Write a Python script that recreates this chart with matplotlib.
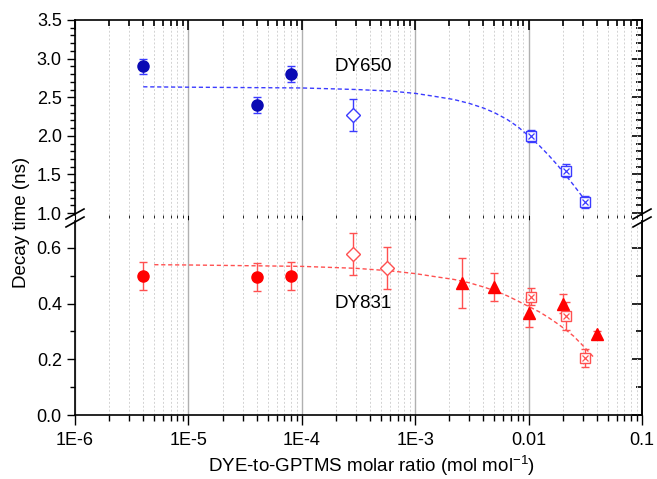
import numpy as np
import matplotlib
matplotlib.use('Agg')
import matplotlib.pyplot as plt
from matplotlib.lines import Line2D
from matplotlib.ticker import MultipleLocator, FixedLocator, FixedFormatter, LogLocator, NullFormatter

plt.rcParams['font.family'] = ['Liberation Sans', 'DejaVu Sans']
plt.rcParams['mathtext.fontset'] = 'custom'
plt.rcParams['mathtext.rm'] = 'Liberation Sans'
plt.rcParams['mathtext.default'] = 'regular'

# DY650 (blue)
x650_circ = [4e-6, 4e-5, 8e-5]
y650_circ = [2.90, 2.40, 2.80]
e650_circ = [0.10, 0.10, 0.10]
x650_dia = [2.8e-4]
y650_dia = [2.27]
e650_dia = [0.21]
x650_sq = [0.0104, 0.0213, 0.0317]
y650_sq = [2.00, 1.55, 1.14]
e650_sq = [0.08, 0.08, 0.08]
x650_fit = [4e-6, 1e-5, 1e-4, 3e-4, 6e-4, 1e-3, 1.5e-3, 2.2e-3, 3e-3, 4e-3, 5e-3,
            6.5e-3, 8e-3, 1e-2, 1.25e-2, 1.5e-2, 1.8e-2, 2.1e-2, 2.5e-2, 2.85e-2, 3.2e-2]
y650_fit = [2.635, 2.63, 2.62, 2.60, 2.58, 2.55, 2.51, 2.47, 2.42, 2.36, 2.30,
            2.21, 2.12, 2.00, 1.87, 1.75, 1.62, 1.50, 1.36, 1.25, 1.15]

# DY831 (red)
x831_circ = [4e-6, 4e-5, 8e-5]
y831_circ = [0.50, 0.495, 0.50]
e831_circ = [0.05, 0.05, 0.05]
x831_dia = [2.8e-4, 5.6e-4]
y831_dia = [0.579, 0.528]
e831_dia = [0.075, 0.075]
x831_tri = [2.6e-3, 5e-3, 1e-2, 2e-2, 4e-2]
y831_tri = [0.475, 0.46, 0.367, 0.40, 0.29]
e831_tri = [0.09, 0.05, 0.05, 0.035, 0.01]
x831_sq = [0.0104, 0.0213, 0.0317]
y831_sq = [0.425, 0.356, 0.205]
e831_sq = [0.03, 0.05, 0.033]
x831_fit = [5e-6, 1e-5, 1e-4, 3e-4, 6e-4, 1e-3, 1.5e-3, 2.2e-3, 3e-3, 4e-3, 5e-3,
            6.5e-3, 8e-3, 1e-2, 1.25e-2, 1.5e-2, 1.8e-2, 2.1e-2, 2.5e-2, 3e-2, 3.7e-2]
y831_fit = [0.540, 0.539, 0.534, 0.527, 0.518, 0.508, 0.497, 0.487, 0.475, 0.460, 0.447,
            0.428, 0.41, 0.39, 0.37, 0.35, 0.328, 0.308, 0.283, 0.25, 0.21]

xticks = [1e-6, 1e-5, 1e-4, 1e-3, 1e-2, 1e-1]
xticklabels = ['1E-6', '1E-5', '1E-4', '1E-3', '0.01', '0.1']

W, H = 657.0, 479.0
fig = plt.figure(figsize=(W / 100, H / 100), dpi=100)
left, right = 75 / W, 642 / W
ax_top = fig.add_axes([left, 1 - 215 / H, right - left, (215 - 20) / H])
ax_bot = fig.add_axes([left, 1 - 415 / H, right - left, (415 - 221) / H])

blue_dark = '#0a0ab4'
blue = '#3b3bff'
red = '#ff0000'
red_light = '#ff5050'
fs = 13

for ax in (ax_top, ax_bot):
    ax.set_xscale('log')
    ax.set_xlim(1e-6, 0.1)
    ax.xaxis.set_major_locator(FixedLocator(xticks))
    ax.xaxis.set_minor_locator(LogLocator(base=10, subs=np.arange(2, 10), numticks=20))
    ax.xaxis.set_minor_formatter(NullFormatter())
    ax.grid(True, which='major', axis='x', color='#b0b0b0', lw=1.0, ls='-')
    ax.grid(True, which='minor', axis='x', color='#d2d2d2', lw=0.7, ls=(0, (2, 2)))
    ax.set_axisbelow(True)
    for s in ax.spines.values():
        s.set_linewidth(1.2)
    ax.tick_params(axis='y', which='both', direction='out', left=True, right=False, labelsize=fs, width=1.0)
    ax.tick_params(axis='y', which='major', length=6)
    ax.tick_params(axis='y', which='minor', length=3.5)

# upper panel
ax_top.spines['bottom'].set_visible(False)
ax_top.set_ylim(0.975, 3.5)
ax_top.yaxis.set_major_locator(MultipleLocator(0.5))
ax_top.yaxis.set_minor_locator(MultipleLocator(0.1))
ax_top.yaxis.set_major_formatter(plt.FuncFormatter(lambda v, p: '%.1f' % v))
ax_top.tick_params(axis='x', which='both', bottom=False, top=False, labelbottom=False, labeltop=False)

# top inward ticks on a twin axes
ax_tw = ax_top.twiny()
ax_tw.set_xscale('log')
ax_tw.set_xlim(1e-6, 0.1)
ax_tw.xaxis.set_major_locator(FixedLocator(xticks))
ax_tw.xaxis.set_minor_locator(LogLocator(base=10, subs=np.arange(2, 10), numticks=20))
ax_tw.xaxis.set_minor_formatter(NullFormatter())
ax_tw.tick_params(axis='x', which='both', direction='in', top=True, bottom=False,
                  labeltop=False, labelbottom=False, width=1.2, color='black')
ax_tw.tick_params(axis='x', which='major', length=7)
ax_tw.tick_params(axis='x', which='minor', length=4)
for s in ax_tw.spines.values():
    s.set_visible(False)

# lower panel
ax_bot.spines['top'].set_visible(False)
ax_bot.set_ylim(0, 0.697)
ax_bot.yaxis.set_major_locator(MultipleLocator(0.2))
ax_bot.yaxis.set_minor_locator(MultipleLocator(0.1))
ax_bot.yaxis.set_major_formatter(plt.FuncFormatter(lambda v, p: '%.1f' % v))
ax_bot.xaxis.set_major_formatter(FixedFormatter(xticklabels))
ax_bot.tick_params(axis='x', which='both', bottom=True, top=False, direction='out',
                   labelsize=fs, width=1.0, pad=5)
ax_bot.tick_params(axis='x', which='major', length=7)
ax_bot.tick_params(axis='x', which='minor', length=4)

# right-hand inward ticks
for ax, maj in ((ax_top, 0.5), (ax_bot, 0.2)):
    sec = ax.secondary_yaxis('right')
    sec.yaxis.set_major_locator(MultipleLocator(maj))
    sec.yaxis.set_minor_locator(MultipleLocator(0.1))
    sec.tick_params(which='both', direction='in', labelright=False, width=1.2)
    sec.tick_params(which='major', length=7)
    sec.tick_params(which='minor', length=4)
    sec.spines['right'].set_linewidth(1.2)

ebkw = dict(ls='none', capsize=3, elinewidth=1.0, capthick=1.0)

# DY650
ax_top.plot(x650_fit, y650_fit, ls=(0, (3, 2)), lw=1.0, color=blue)
ax_top.errorbar(x650_circ, y650_circ, yerr=e650_circ, marker='o', ms=8, mfc=blue_dark, mec=blue_dark,
                ecolor=blue, **ebkw)
ax_top.errorbar(x650_dia, y650_dia, yerr=e650_dia, marker='D', ms=7, mfc='white', mec=blue, mew=1.0,
                ecolor=blue, **ebkw)
ax_top.errorbar(x650_sq, y650_sq, yerr=e650_sq, marker='s', ms=6.5, mfc='white', mec=blue, mew=1.0,
                ecolor=blue, **ebkw)
ax_top.plot(x650_sq, y650_sq, ls='none', marker='x', ms=4.5, mew=0.9, color=blue, zorder=6)
ax_top.text(1.95e-4, 2.90, 'DY650', fontsize=13.5, va='center', ha='left')

# DY831
ax_bot.plot(x831_fit, y831_fit, ls=(0, (3, 2)), lw=1.0, color=red_light)
ax_bot.errorbar(x831_circ, y831_circ, yerr=e831_circ, marker='o', ms=8, mfc=red, mec=red,
                ecolor=red_light, **ebkw)
ax_bot.errorbar(x831_dia, y831_dia, yerr=e831_dia, marker='D', ms=7, mfc='white', mec=red_light, mew=1.0,
                ecolor=red_light, **ebkw)
ax_bot.errorbar(x831_tri, y831_tri, yerr=e831_tri, marker='^', ms=9, mfc=red, mec=red,
                ecolor=red_light, **ebkw)
ax_bot.errorbar(x831_sq, y831_sq, yerr=e831_sq, marker='s', ms=6.5, mfc='white', mec=red_light, mew=1.0,
                ecolor=red_light, **ebkw)
ax_bot.plot(x831_sq, y831_sq, ls='none', marker='x', ms=4.5, mew=0.9, color=red_light, zorder=6)
ax_bot.text(1.95e-4, 0.40, 'DY831', fontsize=13.5, va='center', ha='left')

# axis break marks
for xc in (75, 642):
    for yc in (214, 222):
        fig.add_artist(Line2D([(xc - 9) / W, (xc + 9) / W], [1 - (yc + 5) / H, 1 - (yc - 5) / H],
                              color='black', lw=1.2, transform=fig.transFigure))

fig.text(22 / W, 1 - 222 / H, 'Decay time (ns)', rotation=90, ha='center', va='center', fontsize=13.5)
fig.text(371 / W, 1 - 466 / H, 'DYE-to-GPTMS molar ratio (mol mol$^{-1}$)', ha='center', va='center',
         fontsize=13.5)

fig.savefig('out.png', dpi=100)
